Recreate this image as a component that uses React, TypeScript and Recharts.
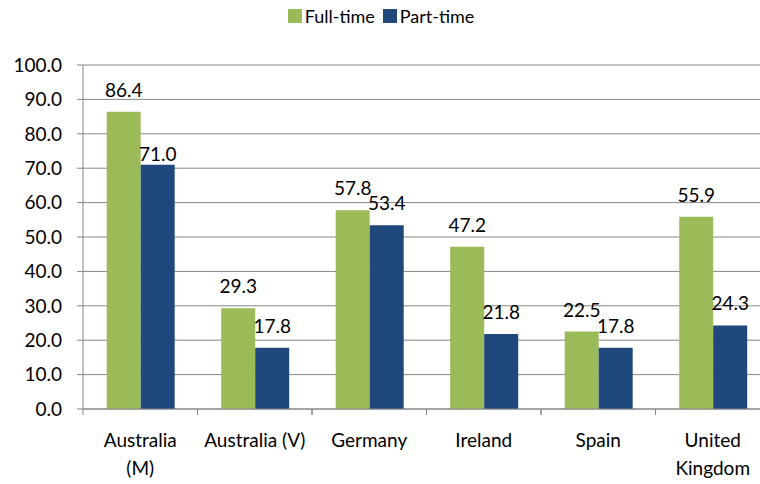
import { BarChart, Bar, XAxis, YAxis, CartesianGrid, LabelList } from "recharts";

const categories = ["Australia\n(M)", "Australia (V)", "Germany", "Ireland", "Spain", "United\nKingdom"];
const fullTime = [86.4, 29.3, 57.8, 47.2, 22.5, 55.9];
const partTime = [71.0, 17.8, 53.4, 21.8, 17.8, 24.3];
const yTicks = [0, 10, 20, 30, 40, 50, 60, 70, 80, 90, 100];

const seriesNames = ["Full-time", "Part-time"];
const GREEN = "#9BBB59";
const BLUE = "#1F497D";
const AXIS = "#868686";
const FONT = "Lato, 'Open Sans', sans-serif";

const data = categories.map((c, i) => ({ name: c, full: fullTime[i], part: partTime[i] }));

const W = 780;
const H = 484;
const M = { top: 65, right: 10, left: 0, bottom: 15 };
const Y_W = 83;
const band = (W - M.left - M.right - Y_W) / categories.length;

const CategoryTick = (props: any) => {
  const { x, y, payload } = props;
  const lines = String(payload.value).split("\n");
  return (
    <g>
      <line x1={x - band / 2} x2={x - band / 2} y1={y} y2={y + 6} stroke={AXIS} />
      <line x1={x + band / 2} x2={x + band / 2} y1={y} y2={y + 6} stroke={AXIS} />
      <text x={x} y={y + 38} textAnchor="middle" fill="#000" fontSize={19} fontFamily={FONT}>
        {lines.map((l, i) => (
          <tspan key={i} x={x} dy={i === 0 ? 0 : 28}>
            {l}
          </tspan>
        ))}
      </text>
    </g>
  );
};

// value label above a bar; the first part-time label sits lower in the original
const makeLabel = (shiftFirst: boolean) => (props: any) => {
  const { x, y, width, value, index } = props;
  const gap = shiftFirst && index === 0 ? 4 : 15;
  return (
    <text x={x + width / 2} y={y - gap} textAnchor="middle" fill="#000" fontSize={19} fontFamily={FONT}>
      {Number(value).toFixed(1)}
    </text>
  );
};

export default function App() {
  return (
    <div
      style={{
        position: "absolute",
        left: 0,
        top: 0,
        width: 760,
        height: 484,
        overflow: "hidden",
        background: "#fff",
        fontFamily: FONT,
      }}
    >
      <div
        style={{
          position: "absolute",
          top: 5,
          left: 0,
          width: 760,
          display: "flex",
          justifyContent: "center",
          alignItems: "center",
          fontSize: 18,
          color: "#000",
          paddingLeft: 2,
          boxSizing: "border-box",
        }}
      >
        {seriesNames.map((n, i) => (
          <div key={n} style={{ display: "flex", alignItems: "center", marginRight: i === 0 ? 8 : 0 }}>
            <span
              style={{ width: 14, height: 14, background: i === 0 ? GREEN : BLUE, display: "inline-block", marginRight: 3 }}
            />
            <span>{n}</span>
          </div>
        ))}
      </div>
      <div style={{ position: "absolute", left: 0, top: 0 }}>
        <BarChart width={W} height={H} data={data} margin={M} barCategoryGap="20.7%" barGap={0}>
          <CartesianGrid vertical={false} stroke={AXIS} strokeWidth={1} />
          <XAxis
            dataKey="name"
            interval={0}
            axisLine={{ stroke: AXIS }}
            tickLine={false}
            tickSize={0}
            tickMargin={0}
            height={60}
            tick={<CategoryTick />}
          />
          <YAxis
            domain={[0, 100]}
            ticks={yTicks}
            width={Y_W}
            axisLine={{ stroke: AXIS }}
            tickLine={{ stroke: AXIS }}
            tickSize={6}
            tickMargin={15}
            tickFormatter={(v: number) => v.toFixed(1)}
            tick={{ fill: "#000", fontSize: 19, fontFamily: FONT }}
          />
          <Bar dataKey="full" name={seriesNames[0]} fill={GREEN} isAnimationActive={false}>
            <LabelList dataKey="full" content={makeLabel(false)} />
          </Bar>
          <Bar dataKey="part" name={seriesNames[1]} fill={BLUE} isAnimationActive={false}>
            <LabelList dataKey="part" content={makeLabel(true)} />
          </Bar>
        </BarChart>
      </div>
    </div>
  );
}
